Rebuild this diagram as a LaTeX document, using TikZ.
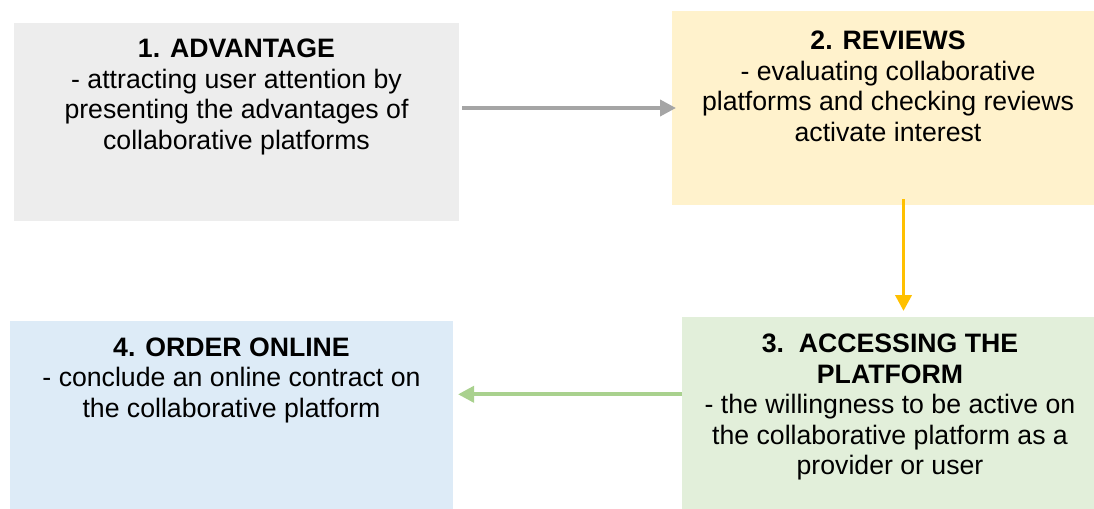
\documentclass[tikz,border=0pt]{standalone}
\usepackage{fontspec}
\setmainfont{Liberation Sans}
\usetikzlibrary{calc,arrows.meta}
\definecolor{advfill}{HTML}{EDEDED}
\definecolor{revfill}{HTML}{FFF2CC}
\definecolor{accfill}{HTML}{E2EFDA}
\definecolor{ordfill}{HTML}{DDEBF7}
\definecolor{advline}{HTML}{A5A5A5}
\definecolor{revline}{HTML}{FFC000}
\definecolor{accline}{HTML}{A9D18E}
\tikzset{
  card/.style={anchor=north west,inner sep=0pt,outer sep=0pt},
  cardtext/.style={anchor=north,inner sep=0pt,align=center,font=\fontsize{20pt}{22.8pt}\selectfont},
  flow/.style={line width=2.8pt,-{Triangle[length=12pt,width=12pt]}}
}
\begin{document}
\begin{tikzpicture}[x=0.75pt,y=-0.75pt]
    \useasboundingbox (0,0) rectangle (1094,508);
    \node[card,fill=advfill,minimum width=333.75pt,minimum height=148.5pt] (adv) at (14,23) {};
    \node[card,fill=revfill,minimum width=324pt,minimum height=145.5pt] (rev) at (672,11) {};
    \node[card,fill=accfill,minimum width=312pt,minimum height=152.25pt] (acc) at (682,317) {};
    \node[card,fill=ordfill,minimum width=332.25pt,minimum height=149.25pt] (ord) at (10,321) {};
    \node[cardtext] (advtext) at ([yshift=-12pt]adv.north) {\textbf{1. ADVANTAGE}\\- attracting user attention by\\presenting the advantages of\\collaborative platforms};
    \node[cardtext] (revtext) at ([yshift=-15pt]rev.north) {\textbf{2. REVIEWS}\\- evaluating collaborative\\platforms and checking reviews\\activate interest};
    \node[cardtext] (acctext) at ([yshift=-12.75pt]acc.north) {\textbf{3.~~ACCESSING THE}\\\textbf{PLATFORM}\\- the willingness to be active on\\the collaborative platform as a\\provider or user};
    \node[cardtext] (ordtext) at ([yshift=-12.5pt]ord.north) {\textbf{4. ORDER ONLINE}\\- conclude an online contract on\\the collaborative platform};
    \draw[flow,advline,shorten <=2.25pt,shorten >=-3pt] (adv.east |- rev.west) -- (rev.west);
    \draw[flow,revline] ($(rev.south)+(15.5,-6)$) -- ($(acc.north)+(13.5,-6)$);
    \draw[flow,accline] ($(acc.west)+(0,-24.2)$) -- ($(ord.east)+(5,-26.2)$);
\end{tikzpicture}
\end{document}
